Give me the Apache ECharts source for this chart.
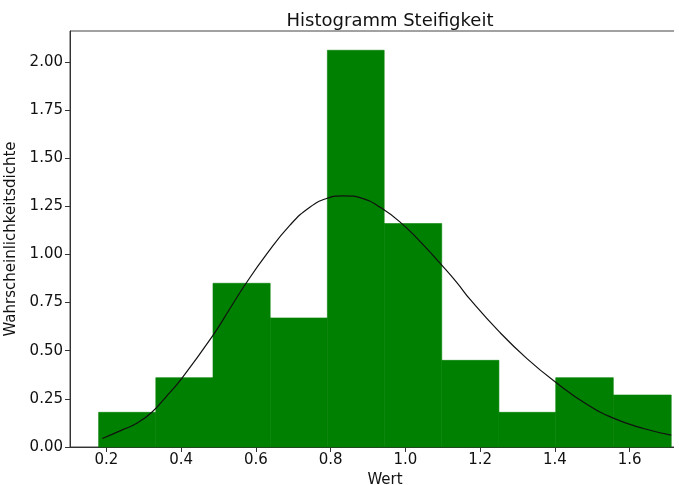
<!DOCTYPE html>
<html>
<head>
  <meta charset="utf-8">
  <title>Histogramm Steifigkeit</title>
  <script src="https://cdn.jsdelivr.net/npm/echarts@6/dist/echarts.min.js"></script>
  <style>
    html, body { margin: 0; padding: 0; background: #fff; overflow: hidden; }
    #clip { width: 674px; height: 485px; overflow: hidden; }
    #main { width: 720px; height: 485px; }
  </style>
</head>
<body>
  <div id="clip"><div id="main"></div></div>
<script>
  // histogram bins (edges) and density heights
  const binEdges = [0.179, 0.332, 0.485, 0.638, 0.791, 0.943, 1.097, 1.250, 1.402, 1.556, 1.711];
  const density = [0.18, 0.36, 0.85, 0.67, 2.06, 1.16, 0.45, 0.18, 0.36, 0.27];

  // fitted density curve
  const curveX = [0.189, 0.244, 0.280, 0.320, 0.360, 0.401, 0.485, 0.530, 0.570, 0.628, 0.691, 0.744, 0.789, 0.833,
    0.887, 0.932, 0.985, 1.040, 1.097, 1.137, 1.173, 1.250, 1.325, 1.402, 1.485, 1.556, 1.637, 1.711];
  const curveY = [0.044, 0.090, 0.122, 0.178, 0.262, 0.355, 0.580, 0.718, 0.840, 1.000, 1.152, 1.245, 1.290, 1.304,
    1.290, 1.245, 1.169, 1.065, 0.944, 0.855, 0.766, 0.600, 0.459, 0.336, 0.222, 0.150, 0.096, 0.062];

  const xTicks = [0.2, 0.4, 0.6, 0.8, 1.0, 1.2, 1.4, 1.6];
  const yTicks = [0, 0.25, 0.5, 0.75, 1.0, 1.25, 1.5, 1.75, 2.0];

  const bars = density.map(function (h, i) { return [binEdges[i], binEdges[i + 1], h]; });
  const curve = curveX.map(function (x, i) { return [x, curveY[i]]; });

  const font = 'DejaVu Sans';
  const chart = echarts.init(document.getElementById('main'));

  chart.setOption({
    animation: false,
    title: {
      text: 'Histogramm Steifigkeit',
      left: 385, top: 7, textAlign: 'center',
      textStyle: { fontFamily: font, fontSize: 18, fontWeight: 'normal', color: '#111' }
    },
    grid: {
      left: 70, right: 20, top: 31, bottom: 38,
      outerBoundsMode: 'none',
      show: true, borderColor: '#444', borderWidth: 1, backgroundColor: '#fff'
    },
    xAxis: {
      type: 'value', min: 0.1024, max: 1.788,
      name: 'Wert', nameLocation: 'middle', nameGap: 26,
      nameTextStyle: { fontFamily: font, fontSize: 15, color: '#111' },
      axisLine: { lineStyle: { color: '#333' } },
      axisTick: { length: 5, lineStyle: { color: '#333' }, customValues: xTicks },
      axisLabel: {
        fontFamily: font, fontSize: 15, color: '#111', margin: 6,
        customValues: xTicks,
        formatter: function (v) { return v.toFixed(1); }
      },
      splitLine: { show: false }
    },
    yAxis: {
      type: 'value', min: 0, max: 2.16,
      name: 'Wahrscheinlichkeitsdichte', nameLocation: 'middle', nameGap: 49,
      nameTextStyle: { fontFamily: font, fontSize: 15, color: '#111' },
      axisLine: { show: true, lineStyle: { color: '#333' } },
      axisTick: { show: true, length: 5, lineStyle: { color: '#333' }, customValues: yTicks },
      axisLabel: {
        fontFamily: font, fontSize: 15, color: '#111', margin: 7,
        customValues: yTicks,
        formatter: function (v) { return v.toFixed(2); }
      },
      splitLine: { show: false }
    },
    series: [
      {
        type: 'custom',
        data: bars,
        encode: { x: [0, 1], y: 2 },
        renderItem: function (params, api) {
          const p0 = api.coord([api.value(0), api.value(2)]);
          const p1 = api.coord([api.value(1), 0]);
          return {
            type: 'rect',
            shape: { x: p0[0], y: p0[1], width: p1[0] - p0[0], height: p1[1] - p0[1] },
            style: { fill: '#008000', stroke: '#008000', lineWidth: 0.6 }
          };
        }
      },
      {
        type: 'line',
        data: curve,
        smooth: 0.5,
        showSymbol: false,
        lineStyle: { color: '#111', width: 1.2 },
        z: 5
      }
    ]
  });
</script>
</body>
</html>
